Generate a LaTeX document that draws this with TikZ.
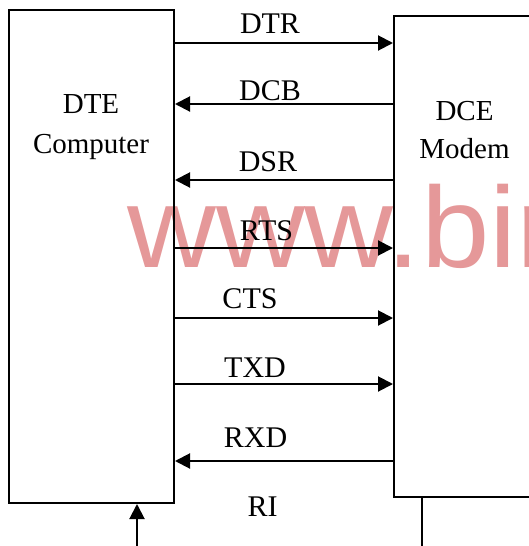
\documentclass[tikz,border=0pt]{standalone}
\usepackage{fontspec}
\setmainfont{Liberation Serif}
\newfontfamily\wmfont{Liberation Sans}
\usetikzlibrary{arrows.meta}
\definecolor{wmpink}{RGB}{229,152,153}

\begin{document}
\begin{tikzpicture}[x=1pt, y=-1pt,
    unit/.style={draw, line width=2pt, inner sep=0pt},
    sig/.style={line width=2pt, -{Triangle[length=15pt, width=15pt]}},
    wire/.style={line width=2pt},
    lbl/.style={font=\fontsize{30}{34}\selectfont, anchor=base, inner sep=0pt},
    txt/.style={font=\fontsize{29}{34}\selectfont, anchor=base, inner sep=0pt},
    wm/.style={font=\wmfont\fontsize{115}{115}\selectfont, text=wmpink, anchor=base west, inner sep=0pt}
  ]
  \useasboundingbox (0,0) rectangle (529,546);
  \clip (0,0) rectangle (529,546);
  \def\ya{43} \def\yb{104} \def\yc{180} \def\yd{248} \def\ye{318} \def\yf{384} \def\yg{461}

  \node[wm] (wmark) at (127,267) {\scalebox{1.07}[1]{www.bin}};

  \node[unit, minimum width=165.5pt, minimum height=493pt] (dte) at (91.25,256.5) {};
  \node[unit, minimum width=166pt, minimum height=481pt] (dce) at (477,256.5) {};
  \node[txt] (dte-a) at (91,113) {DTE};
  \node[txt] (dte-b) at (91,153) {Computer};
  \node[txt] (dce-a) at (464.5,120) {DCE};
  \node[txt] (dce-b) at (464.5,158) {Modem};

  \coordinate (dtr) at (0,\ya); \coordinate (dcb) at (0,\yb);
  \coordinate (dsr) at (0,\yc); \coordinate (rts) at (0,\yd);
  \coordinate (cts) at (0,\ye); \coordinate (txd) at (0,\yf);
  \coordinate (rxd) at (0,\yg);
  \draw[sig] (dte.east |- dtr) -- (dce.west |- dtr);
  \draw[sig] (dce.west |- dcb) -- (dte.east |- dcb);
  \draw[sig] (dce.west |- dsr) -- (dte.east |- dsr);
  \draw[sig] (dte.east |- rts) -- (dce.west |- rts);
  \draw[sig] (dte.east |- cts) -- (dce.west |- cts);
  \draw[sig] (dte.east |- txd) -- (dce.west |- txd);
  \draw[sig] (dce.west |- rxd) -- (dte.east |- rxd);

  \node[lbl] (dtr-l) at (270,33) {DTR};
  \node[lbl] (dcb-l) at (270,100) {DCB};
  \node[lbl] (dsr-l) at (268,171) {DSR};
  \node[lbl] (rts-l) at (266.5,240) {RTS};
  \node[lbl] (cts-l) at (250,308) {CTS};
  \node[lbl] (txd-l) at (255,377) {TXD};
  \node[lbl] (rxd-l) at (255.5,447) {RXD};
  \node[lbl] (ri-l) at (262.5,516) {RI};

  \coordinate (ri) at (137,546);
  \draw[sig] (ri) -- (ri |- dte.south);
  \coordinate (ring) at (422,546);
  \draw[wire] (ring |- dce.south) -- (ring);
\end{tikzpicture}
\end{document}
